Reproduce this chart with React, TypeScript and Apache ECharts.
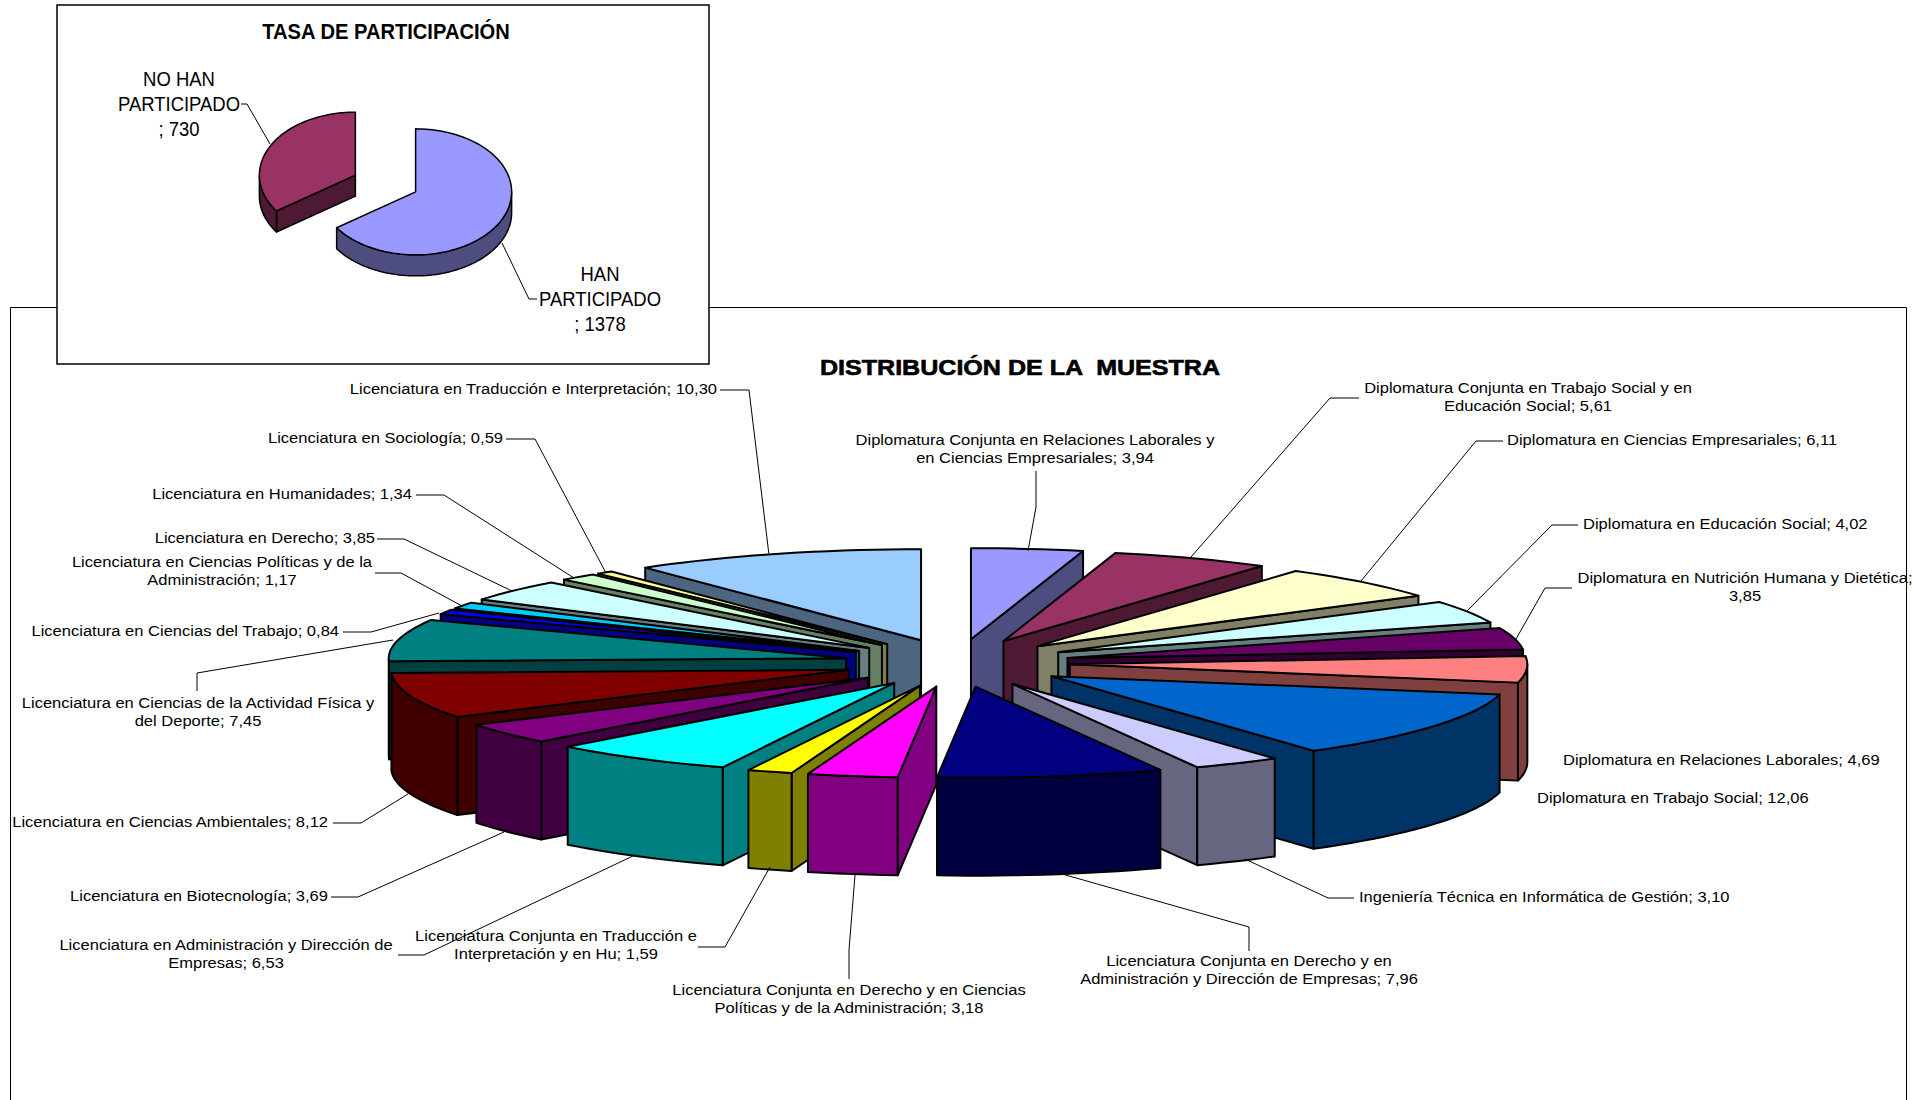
import React, { useEffect, useRef } from "react";
import * as echarts from "echarts";

const sampleNames = [
  "Diplomatura Conjunta en Relaciones Laborales y\nen Ciencias Empresariales; 3,94",
  "Diplomatura Conjunta en Trabajo Social y en\nEducación Social; 5,61",
  "Diplomatura en Ciencias Empresariales; 6,11",
  "Diplomatura en Educación Social; 4,02",
  "Diplomatura en Nutrición Humana y Dietética;\n3,85",
  "Diplomatura en Relaciones Laborales; 4,69",
  "Diplomatura en Trabajo Social; 12,06",
  "Ingeniería Técnica en Informática de Gestión; 3,10",
  "Licenciatura Conjunta en Derecho y en\nAdministración y Dirección de Empresas; 7,96",
  "Licenciatura Conjunta en Derecho y en Ciencias\nPolíticas y de la Administración; 3,18",
  "Licenciatura Conjunta en Traducción e\nInterpretación y en Hu; 1,59",
  "Licenciatura en Administración y Dirección de\nEmpresas; 6,53",
  "Licenciatura en Biotecnología; 3,69",
  "Licenciatura en Ciencias Ambientales; 8,12",
  "Licenciatura en Ciencias de la Actividad Física y\ndel Deporte; 7,45",
  "Licenciatura en Ciencias del Trabajo; 0,84",
  "Licenciatura en Ciencias Políticas y de la\nAdministración; 1,17",
  "Licenciatura en Derecho; 3,85",
  "Licenciatura en Humanidades; 1,34",
  "Licenciatura en Sociología; 0,59",
  "Licenciatura en Traducción e Interpretación; 10,30",
];
const sampleValues = [3.94, 5.61, 6.11, 4.02, 3.85, 4.69, 12.06, 3.1, 7.96, 3.18, 1.59, 6.53, 3.69, 8.12, 7.45, 0.84, 1.17, 3.85, 1.34, 0.59, 10.3];
const sampleTop = ["#9999FF", "#993366", "#FFFFCC", "#CCFFFF", "#660066", "#FF8080", "#0066CC", "#CCCCFF", "#000080", "#FF00FF", "#FFFF00", "#00FFFF", "#800080", "#800000", "#008080", "#0000FF", "#00CCFF", "#CCFFFF", "#CCFFCC", "#FFFF99", "#99CCFF"];
const sampleSide = ["#4D4D80", "#4D1933", "#808066", "#668080", "#330033", "#804040", "#003366", "#666680", "#000040", "#800080", "#808000", "#008080", "#400040", "#400000", "#004040", "#000080", "#006680", "#668080", "#668066", "#80804D", "#4D6680"];

const rateNames = ["HAN\nPARTICIPADO\n; 1378", "NO HAN\nPARTICIPADO\n; 730"];
const rateValues = [1378, 730];
const rateTop = ["#9999FF", "#993366"];
const rateSide = ["#4D4D80", "#4D1933"];

// Label anchor and leader per sample slice (layout only).
const sampleLabels: [number, number, string, number[][]][] = [
  [1035, 449, "center", [[1036, 471], [1036, 507], [1028, 551]]],
  [1528, 397, "center", [[1359, 398], [1330, 398], [1191, 557]]],
  [1507, 440, "left", [[1503, 441], [1476, 441], [1361, 581]]],
  [1583, 524, "left", [[1578, 525], [1552, 525], [1466, 612]]],
  [1745, 587, "center", [[1572, 588], [1545, 588], [1516, 639]]],
  [1563, 760, "left", []],
  [1537, 798, "left", []],
  [1359, 897, "left", [[1354, 898], [1328, 898], [1245, 859]]],
  [1249, 970, "center", [[1249, 951], [1249, 927], [1062, 874]]],
  [849, 999, "center", [[849, 979], [849, 950], [855, 875]]],
  [556, 945, "center", [[698, 947], [725, 947], [770, 867]]],
  [226, 954, "center", [[398, 955], [424, 955], [635, 855]]],
  [328, 896, "right", [[331, 897], [358, 897], [504, 832]]],
  [328, 822, "right", [[333, 823], [361, 823], [408, 794]]],
  [198, 712, "center", [[197, 691], [197, 673], [393, 640]]],
  [339, 631, "right", [[343, 632], [371, 632], [439, 613]]],
  [222, 571, "center", [[375, 573], [401, 573], [462, 606]]],
  [375, 538, "right", [[377, 539], [404, 539], [512, 591]]],
  [412, 494, "right", [[416, 495], [444, 495], [574, 578]]],
  [503, 438, "right", [[506, 439], [535, 439], [606, 573]]],
  [717, 389, "right", [[720, 390], [749, 390], [769, 555]]],
];
const rateLabels: [number, number, string, number[][]][] = [
  [600, 299, "center", [[537, 299], [529, 299], [502, 243]]],
  [179, 104, "center", [[241, 104], [247, 104], [270, 144]]],
];

type PieGeom = { cx: number; cy: number; rx: number; ry: number; depth: number; ex: number; ey: number; lw: number };
const sampleGeom: PieGeom = { cx: 957, cy: 663, rx: 457.5, ry: 91, depth: 98, ex: 113, ey: 24, lw: 2 };
const rateGeom: PieGeom = { cx: 385.5, cy: 183.5, rx: 96, ry: 63, depth: 21, ex: 34, ey: 18, lw: 1.5 };

const ARC_STEP = Math.PI / 90;

function arcPoints(ox: number, oy: number, g: PieGeom, a0: number, a1: number, dy = 0) {
  const n = Math.max(1, Math.ceil((a1 - a0) / ARC_STEP));
  const pts: number[][] = [];
  for (let i = 0; i <= n; i++) {
    const a = a0 + ((a1 - a0) * i) / n;
    pts.push([ox + g.rx * Math.sin(a), oy - g.ry * Math.cos(a) + dy]);
  }
  return pts;
}

function sliceRenderer(values: number[], top: string[], side: string[], g: PieGeom) {
  const total = values.reduce((s, v) => s + v, 0);
  const starts: number[] = [];
  let acc = 0;
  values.forEach((v) => {
    starts.push((acc / total) * Math.PI * 2);
    acc += v;
  });
  return (params: any, api: any) => {
    const i = api.value(0) as number;
    const a0 = starts[i];
    const a1 = a0 + (api.value(1) / total) * Math.PI * 2;
    const m = (a0 + a1) / 2;
    const ox = g.cx + g.ex * Math.sin(m);
    const oy = g.cy - g.ey * Math.cos(m);
    const style = (fill: string) => ({ fill, stroke: "#000", lineWidth: g.lw, lineJoin: "round" });
    const children: any[] = [];
    const face = (a: number) => {
      const p = [ox + g.rx * Math.sin(a), oy - g.ry * Math.cos(a)];
      children.push({
        type: "polygon",
        shape: { points: [[ox, oy], p, [p[0], p[1] + g.depth], [ox, oy + g.depth]] },
        style: style(side[i]),
      });
    };
    if (Math.sin(a0) < -1e-6) face(a0);
    if (Math.sin(a1) > 1e-6) face(a1);
    const r0 = Math.max(a0, Math.PI / 2);
    const r1 = Math.min(a1, (Math.PI * 3) / 2);
    if (r1 > r0) {
      const upper = arcPoints(ox, oy, g, r0, r1);
      const lower = arcPoints(ox, oy, g, r0, r1, g.depth).reverse();
      children.push({ type: "polygon", shape: { points: upper.concat(lower) }, style: style(side[i]) });
    }
    children.push({
      type: "polygon",
      shape: { points: [[ox, oy], ...arcPoints(ox, oy, g, a0, a1)] },
      style: style(top[i]),
    });
    return { type: "group", children };
  };
}

// Back slices are painted first: the right half clockwise, then the left half counter-clockwise.
function paintOrder(values: number[]) {
  const total = values.reduce((s, v) => s + v, 0);
  let acc = 0;
  const right: number[] = [];
  const left: number[] = [];
  values.forEach((v, i) => {
    const mid = (acc + v / 2) / total;
    (mid < 0.5 ? right : left).push(i);
    acc += v;
  });
  return [...right, ...left.reverse()];
}

const labelFont = '"Liberation Sans", Arial, sans-serif';

function labelElements(names: string[], layout: [number, number, string, number[][]][], size: number, lineHeight: number, stretch: number) {
  const els: any[] = [];
  layout.forEach(([x, y, align, leader], i) => {
    if (leader.length) {
      els.push({
        type: "polyline",
        shape: { points: leader },
        style: { stroke: "#000", lineWidth: 1, fill: "none" },
      });
    }
    els.push({
      type: "text",
      x,
      y,
      scaleX: stretch,
      style: { text: names[i], fontFamily: labelFont, fontSize: size, lineHeight, fill: "#000", align, verticalAlign: "middle" },
    });
  });
  return els;
}

export default function App() {
  const ref = useRef<HTMLDivElement>(null);
  useEffect(() => {
    const chart = echarts.init(ref.current!, undefined, { renderer: "svg" });
    chart.setOption({
      animation: false,
      backgroundColor: "#fff",
      graphic: {
        elements: [
          { type: "rect", z: -2, silent: true, shape: { x: 10.5, y: 307.5, width: 1896, height: 900 }, style: { fill: "#fff", stroke: "#000", lineWidth: 1 } },
          { type: "text", z: 6, x: 1020, y: 368, scaleX: 1.14, style: { text: "DISTRIBUCIÓN DE LA  MUESTRA", fontFamily: labelFont, fontWeight: "bold", fontSize: 22, fill: "#000", stroke: "#000", lineWidth: 0.6, align: "center", verticalAlign: "middle" } },
          ...labelElements(sampleNames, sampleLabels, 14.5, 18, 1.14).map((e) => ({ ...e, z: 6 })),
          { type: "rect", z: 10, silent: true, shape: { x: 57, y: 5, width: 652, height: 359 }, style: { fill: "#fff", stroke: "#000", lineWidth: 1.5 } },
        ],
      },
      series: [
        {
          type: "custom",
          coordinateSystem: "none",
          z: 2,
          silent: true,
          data: paintOrder(sampleValues).map((i) => [i, sampleValues[i]]),
          renderItem: sliceRenderer(sampleValues, sampleTop, sampleSide, sampleGeom),
        },
        {
          type: "custom",
          coordinateSystem: "none",
          z: 30,
          silent: true,
          data: paintOrder(rateValues).map((i) => [i, rateValues[i]]),
          renderItem: sliceRenderer(rateValues, rateTop, rateSide, rateGeom),
        },
        {
          // Texts of the participation box, above its white panel.
          type: "custom",
          coordinateSystem: "none",
          z: 31,
          silent: true,
          data: [[0]],
          renderItem: () => ({
            type: "group",
            children: [
              { type: "text", x: 386, y: 31, scaleX: 0.915, style: { text: "TASA DE PARTICIPACIÓN", fontFamily: labelFont, fontWeight: "bold", fontSize: 22, fill: "#000", align: "center", verticalAlign: "middle" } },
              ...labelElements(rateNames, rateLabels, 21, 25, 0.88),
            ],
          }),
        },
      ],
    });
    return () => chart.dispose();
  }, []);
  return <div ref={ref} style={{ position: "fixed", left: 0, top: 0, width: 1916, height: 1100 }} />;
}
